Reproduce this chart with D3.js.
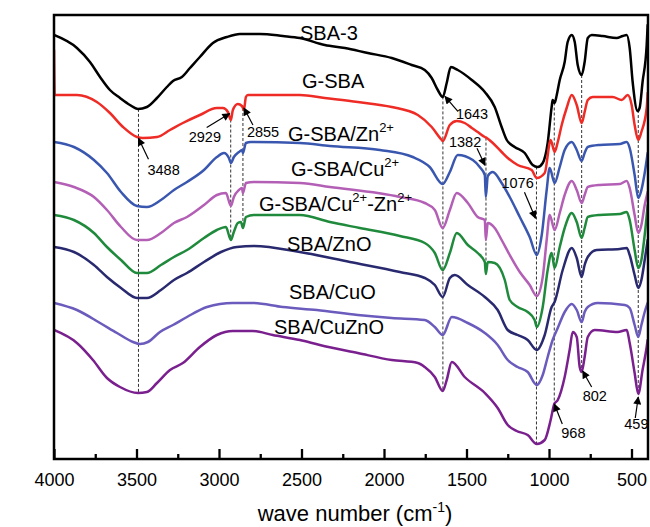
<!DOCTYPE html>
<html><head><meta charset="utf-8">
<script src="https://cdn.jsdelivr.net/npm/d3@7/dist/d3.min.js"></script>
<style>
body{margin:0;background:#fff}
svg{display:block}
text{font-family:"Liberation Sans",Arial,Helvetica,sans-serif;fill:#000}
</style>
</head><body>
<svg id="chart" width="650" height="527"></svg>
<script>
// ---------- DATA ----------
const wnMajorTicks = [4000,3500,3000,2500,2000,1500,1000,500];
const wnMinorTicks = [3750,3250,2750,2250,1750,1250,750];
const xAxisTitle = "wave number (cm";

const seriesNames = ["SBA-3","G-SBA","G-SBA/Zn","G-SBA/Cu","G-SBA/Cu-Zn","SBA/ZnO","SBA/CuO","SBA/CuZnO"];

// [wavenumber (cm-1), transmittance (a.u., stacked)]
const sba3 = [[4000,424],[3861,411],[3782,397],[3721,382],[3661,369],[3600,361],[3540,354],[3491,350],[3437,352],[3376,361],[3316,372],[3279,378],[3225,382],[3176,391],[3116,402],[3037,416],[2952,422],[2873,425],[2752,425],[2613,423],[2510,421],[2359,414],[2237,411],[2098,406],[1953,401],[1832,394],[1753,389],[1711,381],[1674,369],[1644,362],[1620,376],[1595,392],[1553,389],[1468,379],[1389,367],[1329,352],[1287,332],[1256,319],[1208,312],[1147,306],[1099,294],[1068,292],[1038,296],[1008,316],[984,352],[978,359],[966,356],[953,364],[935,379],[905,397],[887,417],[862,424],[844,417],[826,394],[802,384],[784,397],[765,421],[741,424],[675,423],[590,421],[553,423],[529,424],[511,411],[493,377],[463,348],[451,351],[433,377],[408,414],[402,434]];

const gsba = [[4000,409],[3996,364],[3861,364],[3740,357],[3661,346],[3582,332],[3497,322],[3461,321],[3376,322],[3297,329],[3219,336],[3116,344],[3013,351],[2976,351],[2946,347],[2928,339],[2916,349],[2886,355],[2861,353],[2849,349],[2837,362],[2825,364],[2510,364],[2359,361],[2159,357],[1953,352],[1795,344],[1711,332],[1650,319],[1644,318],[1601,334],[1559,338],[1511,336],[1468,331],[1432,327],[1389,322],[1377,321],[1347,317],[1287,307],[1250,301],[1190,294],[1105,289],[1074,281],[1026,286],[990,319],[966,307],[947,317],[923,334],[893,351],[862,364],[832,354],[802,336],[784,347],[765,359],[735,362],[614,362],[559,359],[523,364],[499,354],[481,334],[459,319],[440,327],[408,351],[402,366]];

const gsbaZn = [[4000,317],[3879,312],[3758,299],[3679,286],[3594,267],[3497,253],[3437,252],[3352,259],[3273,269],[3194,277],[3091,289],[3013,302],[2970,306],[2940,301],[2928,296],[2910,302],[2879,307],[2861,309],[2855,306],[2837,316],[2807,317],[2510,316],[2328,313],[2025,309],[1826,302],[1723,292],[1644,275],[1601,287],[1553,304],[1462,299],[1420,292],[1389,284],[1383,262],[1371,283],[1341,287],[1287,276],[1238,262],[1177,242],[1117,222],[1074,204],[1044,224],[1014,269],[996,291],[966,276],[935,292],[905,309],[862,317],[832,309],[802,298],[784,306],[765,312],[693,314],[571,315],[529,317],[511,311],[481,284],[459,261],[440,269],[420,286],[402,306]];

const gsbaCu = [[4000,277],[3879,272],[3758,262],[3679,249],[3594,232],[3497,219],[3437,219],[3352,226],[3273,236],[3194,242],[3091,254],[3013,264],[2958,266],[2928,253],[2910,262],[2879,269],[2861,271],[2855,266],[2837,276],[2789,277],[2510,276],[2328,272],[1904,262],[1753,256],[1692,249],[1644,231],[1601,249],[1559,266],[1492,256],[1432,242],[1389,239],[1383,219],[1371,236],[1329,231],[1287,219],[1238,204],[1177,187],[1117,174],[1074,163],[1038,182],[1014,219],[996,244],[966,229],[935,246],[905,264],[862,278],[832,269],[802,256],[784,264],[765,272],[693,274],[571,275],[529,278],[511,271],[481,244],[459,226],[440,234],[420,254],[402,267]];

const gsbaCuZn = [[4000,244],[3879,239],[3758,226],[3679,212],[3594,199],[3497,186],[3437,186],[3352,194],[3273,202],[3194,209],[3091,221],[3013,229],[2958,232],[2928,219],[2910,227],[2886,236],[2867,237],[2855,231],[2837,242],[2789,244],[2510,244],[2328,237],[2147,231],[1904,223],[1753,216],[1692,206],[1644,189],[1601,206],[1559,226],[1492,214],[1432,206],[1389,197],[1383,185],[1371,197],[1329,196],[1268,179],[1238,159],[1190,152],[1129,147],[1087,139],[1074,132],[1038,152],[1008,189],[984,206],[966,191],[935,212],[905,231],[862,246],[832,237],[802,221],[784,231],[765,242],[693,244],[571,245],[529,247],[511,239],[481,209],[459,191],[440,199],[420,224],[402,254]];

const sbaZnO = [[4000,212],[3879,207],[3758,194],[3679,182],[3594,171],[3497,161],[3437,161],[3352,169],[3273,179],[3194,186],[3091,197],[2988,207],[2892,212],[2789,213],[2510,207],[2207,197],[1904,187],[1753,181],[1692,174],[1644,162],[1601,181],[1571,184],[1492,174],[1389,162],[1311,149],[1250,129],[1190,124],[1129,119],[1074,109],[1026,124],[984,152],[966,157],[917,189],[862,211],[832,201],[802,182],[784,194],[765,202],[711,209],[571,210],[529,211],[511,204],[481,184],[459,171],[440,179],[420,199],[402,219]];

const sbaCuO = [[4000,156],[3861,149],[3721,136],[3618,126],[3521,117],[3479,115],[3431,117],[3358,127],[3279,134],[3194,142],[3073,152],[2916,156],[2795,156],[2613,152],[2407,149],[2159,144],[1953,141],[1753,139],[1692,132],[1644,124],[1589,142],[1492,136],[1389,126],[1311,114],[1250,99],[1190,92],[1129,87],[1074,74],[1038,84],[1008,102],[978,119],[947,131],[905,147],[862,155],[832,149],[802,137],[784,147],[765,152],[705,156],[541,154],[511,151],[481,134],[459,122],[440,134],[420,147],[402,156]];

const sbaCuZnO = [[4000,129],[3861,116],[3764,99],[3679,81],[3600,72],[3491,66],[3437,67],[3376,76],[3297,89],[3219,96],[3116,112],[3013,124],[2916,128],[2795,128],[2674,124],[2510,119],[2389,114],[2159,106],[1953,99],[1795,96],[1753,92],[1692,82],[1644,68],[1620,79],[1589,97],[1511,82],[1389,66],[1311,51],[1250,34],[1196,28],[1129,24],[1074,15],[1026,19],[990,39],[968,55],[947,59],[905,82],[875,109],[856,127],[832,122],[814,92],[802,87],[784,102],[765,122],[723,129],[584,127],[529,129],[511,116],[481,86],[459,65],[433,89],[408,112],[402,119]];

const peakWavenumbers = [3488,2929,2855,1643,1382,1076,968,802,459];
const peakLabels = ["3488","2929","2855","1643","1382","1076","968","802","459"];

// ---------- LAYOUT / STYLE ----------
const W = 650, H = 527;
const M = {left:54, right:2, top:15, bottom:68};
const colors = ["#000000","#ee2b25","#3a57b0","#b35fb5","#1f8a3b","#29296f","#6a5bbd","#7a1f8e"];
const seriesData = [sba3,gsba,gsbaZn,gsbaCu,gsbaCuZn,sbaZnO,sbaCuO,sbaCuZnO];
const labelPos = [[300,40],[302,88],[288,141],[291,176],[259,211],[287,251],[289,299],[274,334]];
const guideSpan = [[0,7],[1,4],[1,4],[0,7],[1,4],[0,7],[0,7],[0,7],[0,7]];
const annot = [
  {s:1, tip:[0,1], tail:[10,22], txt:[9,38]},
  {s:1, tip:[-1,-6], tail:[-24,8], txt:[-42,22]},
  {s:1, tip:[1,0], tail:[10,17], txt:[4,29]},
  {s:0, tip:[2,0], tail:[15,15], txt:[13,23]},
  {s:2, tip:[-1,-30], tail:[-9,-47], txt:[-37,-48]},
  {s:2, tip:[-1,-36], tail:[-12,-62], txt:[-35,-66]},
  {s:7, tip:[0,0], tail:[8,20], txt:[7,34]},
  {s:7, tip:[1,-1], tail:[10,15], txt:[1,29]},
  {s:7, tip:[0,3], tail:[-3,24], txt:[-14,35]}
];

const svg = d3.select("#chart");
const x = d3.scaleLinear().domain([4000,400]).range([M.left, W - M.right]);
const y = d3.scaleLinear().domain([0,444]).range([H - M.bottom, M.top]);

function valAt(series, wn){
  for(let i=0;i<series.length-1;i++){
    const a=series[i], b=series[i+1];
    if(wn<=a[0] && wn>=b[0]){
      const t=(a[0]-wn)/(a[0]-b[0]);
      return a[1]+t*(b[1]-a[1]);
    }
  }
  return series[series.length-1][1];
}

const defs = svg.append("defs");
defs.append("clipPath").attr("id","clip")
  .append("rect").attr("x",M.left).attr("y",M.top).attr("width",W-M.left-M.right).attr("height",H-M.top-M.bottom);

// dashed guides
const gGuides = svg.append("g");
peakWavenumbers.forEach((wn,i)=>{
  const [a,b] = guideSpan[i];
  gGuides.append("line")
    .attr("x1",x(wn)).attr("x2",x(wn))
    .attr("y1",y(valAt(seriesData[a],wn))).attr("y2",y(valAt(seriesData[b],wn)))
    .attr("stroke","#333").attr("stroke-width",1).attr("stroke-dasharray","3,2");
});

// curves
const line = d3.line().x(d=>x(d[0])).y(d=>y(d[1])).curve(d3.curveMonotoneX);
const gLines = svg.append("g").attr("clip-path","url(#clip)");
seriesData.forEach((s,i)=>{
  gLines.append("path").datum(s).attr("d",line)
    .attr("fill","none").attr("stroke",colors[i]).attr("stroke-width",2.5)
    .attr("stroke-linejoin","round").attr("stroke-linecap","round");
});

// frame
svg.append("rect").attr("x",M.left).attr("y",M.top)
  .attr("width",W-M.left-M.right).attr("height",H-M.top-M.bottom)
  .attr("fill","none").attr("stroke","#000").attr("stroke-width",2.5);

// bottom axis (ticks inward)
const axisY = H - M.bottom;
const gAx = svg.append("g").attr("transform",`translate(0,${axisY})`);
gAx.call(d3.axisBottom(x).tickValues(wnMajorTicks).tickSize(-10).tickPadding(14).tickFormat(d3.format("d")));
gAx.select(".domain").remove();
gAx.selectAll(".tick line").attr("stroke","#000").attr("stroke-width",2.3);
gAx.selectAll(".tick text").attr("font-size",18).attr("font-family",'"Liberation Sans",Arial,sans-serif').attr("fill","#000");
const gMin = svg.append("g").attr("transform",`translate(0,${axisY})`);
gMin.call(d3.axisBottom(x).tickValues(wnMinorTicks).tickSize(-5).tickFormat(""));
gMin.select(".domain").remove();
gMin.selectAll(".tick line").attr("stroke","#000").attr("stroke-width",2.3);

// axis title
const title = svg.append("text").attr("x",(M.left + W - M.right)/2 + 4).attr("y",521)
  .attr("text-anchor","middle").attr("font-size",22);
title.append("tspan").text(xAxisTitle);
title.append("tspan").attr("dy",-9).attr("font-size",14).text("-1");
title.append("tspan").attr("dy",9).text(")");

// series labels
function addLabel(i){
  const [lx,ly] = labelPos[i];
  const t = svg.append("text").attr("x",lx).attr("y",ly).attr("font-size",20);
  const name = seriesNames[i];
  if(i===2){ t.append("tspan").text("G-SBA/Zn"); t.append("tspan").attr("dy",-9).attr("font-size",13).text("2+"); }
  else if(i===3){ t.append("tspan").text("G-SBA/Cu"); t.append("tspan").attr("dy",-9).attr("font-size",13).text("2+"); }
  else if(i===4){
    t.append("tspan").text("G-SBA/Cu");
    t.append("tspan").attr("dy",-9).attr("font-size",13).text("2+");
    t.append("tspan").attr("dy",9).text("-Zn");
    t.append("tspan").attr("dy",-9).attr("font-size",13).text("2+");
  } else t.text(name);
}
seriesNames.forEach((n,i)=>addLabel(i));

// annotations (arrows + labels)
defs.append("marker").attr("id","ah").attr("viewBox","0 0 10 10").attr("refX",9).attr("refY",5)
  .attr("markerWidth",10).attr("markerHeight",8).attr("markerUnits","userSpaceOnUse").attr("orient","auto")
  .append("path").attr("d","M0,0 L10,5 L0,10 Z").attr("fill","#000");
peakWavenumbers.forEach((wn,i)=>{
  const a = annot[i];
  const px = x(wn), py = y(valAt(seriesData[a.s],wn));
  svg.append("line")
    .attr("x1",px+a.tail[0]).attr("y1",py+a.tail[1])
    .attr("x2",px+a.tip[0]).attr("y2",py+a.tip[1])
    .attr("stroke","#000").attr("stroke-width",1.2).attr("marker-end","url(#ah)");
  svg.append("text").attr("x",px+a.txt[0]).attr("y",py+a.txt[1]).attr("font-size",14.5).text(peakLabels[i]);
});
</script>
</body></html>
